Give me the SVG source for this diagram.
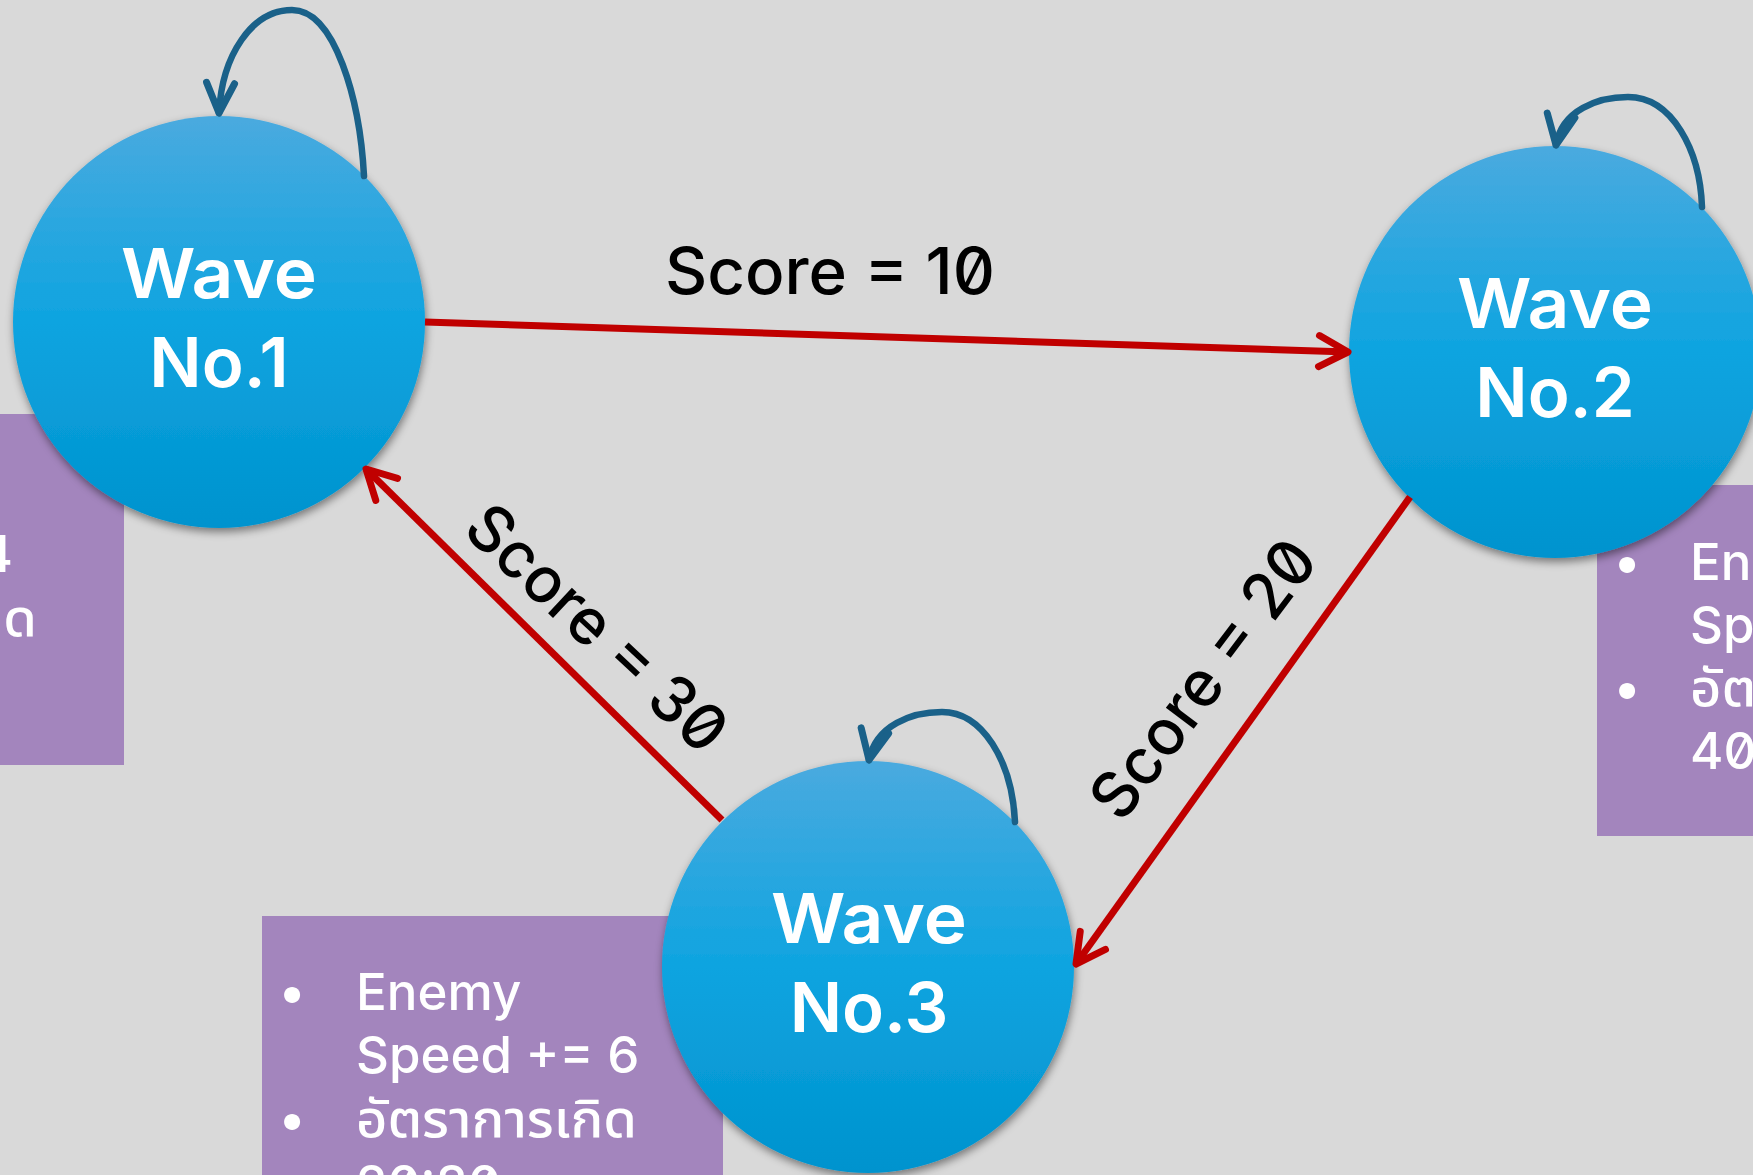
<svg xmlns="http://www.w3.org/2000/svg" width="1753" height="1175" viewBox="0 0 1753 1175">
<defs>
  <linearGradient id="cg" x1="0" y1="0" x2="0" y2="1">
    <stop offset="0" stop-color="#4AAADF"/>
    <stop offset="0.5" stop-color="#0EA4E0"/>
    <stop offset="1" stop-color="#0093CE"/>
  </linearGradient>
  <filter id="sh" x="-10%" y="-10%" width="120%" height="125%">
    <feDropShadow dx="1" dy="4" stdDeviation="4" flood-color="#000" flood-opacity="0.45"/>
  </filter>
  <marker id="ar" markerUnits="userSpaceOnUse" orient="auto" refX="0" refY="0" markerWidth="1" markerHeight="1" style="overflow:visible">
    <path d="M-29,-15.5 L0,0 L-29,15.5" fill="none" stroke="#C00000" stroke-width="7" stroke-linecap="round" stroke-linejoin="round"/>
  </marker>
  <marker id="ab" markerUnits="userSpaceOnUse" orient="auto" refX="0" refY="0" markerWidth="1" markerHeight="1" style="overflow:visible">
    <path d="M-30,-14 L0,0 L-30,14" fill="none" stroke="#1A6189" stroke-width="7" stroke-linecap="round" stroke-linejoin="round"/>
  </marker>
</defs>
<style>
  .box{fill:#A385BD}
  .node circle{fill:url(#cg);filter:url(#sh)}
  .nt{font-family:Inter,"Noto Sans",sans-serif;font-weight:600;font-size:69px;fill:#fff;text-anchor:middle}
  .lbl{font-family:Inter,"Noto Sans",sans-serif;font-weight:500;font-size:64px;fill:#000;font-variant-numeric:slashed-zero;text-anchor:middle}
  .bt{font-family:Inter,"Noto Sans","Noto Sans Thai",sans-serif;font-weight:500;font-size:51px;fill:#fff;font-variant-numeric:slashed-zero}
  .bu{text-anchor:middle}
  .red{fill:none;stroke:#C00000;stroke-width:7;marker-end:url(#ar)}
  .blue{fill:none;stroke:#1A6189;stroke-width:6.5;stroke-linecap:round;marker-end:url(#ab)}
</style>
<rect x="0" y="0" width="1753" height="1175" fill="#D9D9D9"/>

<g id="info1">
  <rect class="box" x="0" y="414" width="124" height="351"/>
  <text class="bt" x="13" y="572" text-anchor="end">Speed += 4</text>
  <text class="bt" x="37" y="636" text-anchor="end" textLength="281" lengthAdjust="spacingAndGlyphs">อัตราการเกิด</text>
</g>
<g id="info2">
  <rect class="box" x="1597" y="485" width="156" height="351"/>
  <text class="bt bu" x="1627" y="580">•</text>
  <text class="bt" x="1690" y="580">Enemy</text>
  <text class="bt" x="1690" y="643">Speed</text>
  <text class="bt bu" x="1627" y="706">•</text>
  <text class="bt" x="1690" y="706" textLength="281" lengthAdjust="spacingAndGlyphs">อัตราการเกิด</text>
  <text class="bt" x="1690" y="769">40</text>
</g>
<g id="info3">
  <rect class="box" x="262" y="916" width="461" height="259"/>
  <text class="bt bu" x="292" y="1010">•</text>
  <text class="bt" x="356" y="1010">Enemy</text>
  <text class="bt" x="356" y="1073">Speed += 6</text>
  <text class="bt bu" x="292" y="1137">•</text>
  <text class="bt" x="356" y="1137" textLength="281" lengthAdjust="spacingAndGlyphs">อัตราการเกิด</text>
  <text class="bt" x="356" y="1202">20:80</text>
</g>

<g id="wave1" class="node">
  <circle cx="219" cy="322" r="206"/>
  <text class="nt" x="219" y="298" textLength="196" lengthAdjust="spacingAndGlyphs">Wave</text>
  <text class="nt" x="219" y="387">No.1</text>
</g>
<g id="wave2" class="node">
  <circle cx="1555" cy="352" r="206"/>
  <text class="nt" x="1555" y="328" textLength="196" lengthAdjust="spacingAndGlyphs">Wave</text>
  <text class="nt" x="1555" y="417">No.2</text>
</g>
<g id="wave3" class="node">
  <circle cx="868" cy="967" r="206"/>
  <text class="nt" x="869" y="943" textLength="196" lengthAdjust="spacingAndGlyphs">Wave</text>
  <text class="nt" x="869" y="1032">No.3</text>
</g>

<g id="connectors">
  <path class="red" d="M425,322 L1348,352"/>
  <path class="red" d="M1410,497 L1076,964"/>
  <path class="red" d="M722,820 L366,469"/>
  <path class="blue" d="M364,176 C360,100 335,10 292,10 C252,10 222,55 219,113"/>
  <path class="blue" d="M1702,207 C1700,150 1672,97 1628,97 C1598,97 1562,110 1556,145"/>
  <path class="blue" d="M1015,822 C1012,760 982,712 942,712 C912,712 876,725 869,760"/>
  <text class="lbl" x="830" y="294" textLength="330" lengthAdjust="spacingAndGlyphs">Score = 10</text>
  <text class="lbl" transform="translate(598,627) rotate(43)" x="0" y="24" textLength="330" lengthAdjust="spacingAndGlyphs">Score = 30</text>
  <text class="lbl" transform="translate(1202,678) rotate(-53)" x="0" y="24" textLength="330" lengthAdjust="spacingAndGlyphs">Score = 20</text>
</g>
</svg>
